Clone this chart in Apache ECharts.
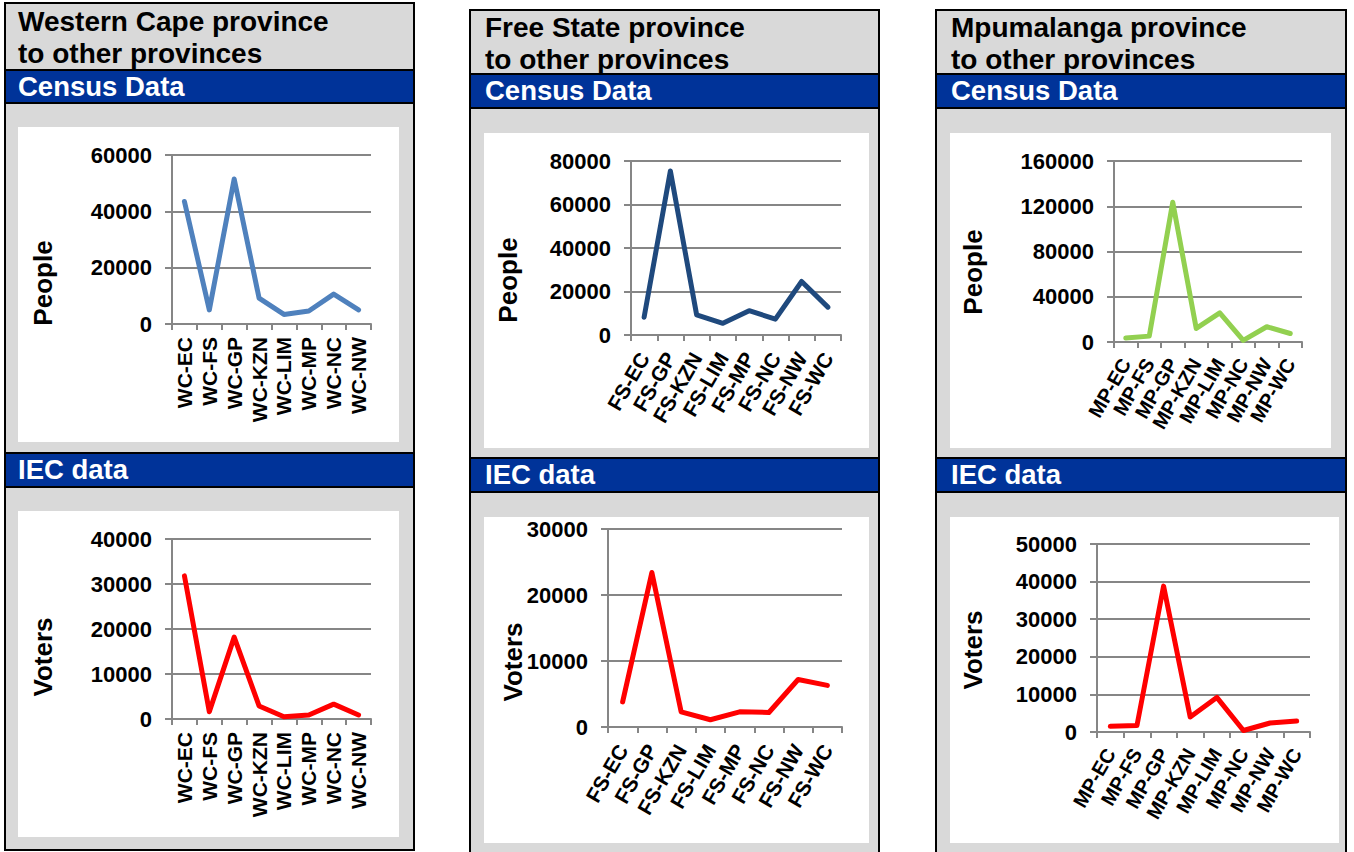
<!DOCTYPE html>
<html>
<head>
<meta charset="utf-8">
<title>Migration between provinces</title>
<script src="https://cdn.jsdelivr.net/npm/echarts@6/dist/echarts.min.js"></script>
<style>
body { margin:0; width:1354px; height:852px; overflow:hidden; background:#fff; position:relative;
       font-family:"Liberation Sans", Arial, sans-serif; }
.panel { position:absolute; box-sizing:border-box; border:2px solid #000; background:#d9d9d9; }
.title { position:absolute; font-weight:bold; font-size:28px; line-height:31.5px; color:#000; white-space:nowrap; }
.band { position:absolute; box-sizing:border-box; border-top:2px solid #000; border-bottom:2px solid #000;
        background:#003399; color:#fff; font-weight:bold; font-size:27.5px; line-height:31px; white-space:nowrap; }
.chart { position:absolute; background:#fff; }
</style>
</head>
<body>
<!-- Western Cape -->
<div class="panel" style="left:4px;top:2px;width:411px;height:849px"></div>
<div class="title" style="left:18px;top:6px">Western Cape province<br>to other provinces</div>
<div class="band" style="left:6px;top:69px;width:407px;height:35px;padding-left:12px">Census Data</div>
<div class="chart" id="wc-census" style="left:18px;top:127px;width:381px;height:315px"></div>
<div class="band" style="left:6px;top:452px;width:407px;height:36px;padding-left:12px">IEC data</div>
<div class="chart" id="wc-iec" style="left:18px;top:511px;width:381px;height:326px"></div>

<!-- Free State -->
<div class="panel" style="left:469px;top:9px;width:411px;height:860px"></div>
<div class="title" style="left:485px;top:12px">Free State province<br>to other provinces</div>
<div class="band" style="left:471px;top:73px;width:407px;height:36px;padding-left:14px">Census Data</div>
<div class="chart" id="fs-census" style="left:484px;top:133px;width:385px;height:315px"></div>
<div class="band" style="left:471px;top:457px;width:407px;height:36px;padding-left:14px">IEC data</div>
<div class="chart" id="fs-iec" style="left:484px;top:517px;width:385px;height:326px"></div>

<!-- Mpumalanga -->
<div class="panel" style="left:935px;top:9px;width:412px;height:860px"></div>
<div class="title" style="left:951px;top:12px">Mpumalanga province<br>to other provinces</div>
<div class="band" style="left:937px;top:73px;width:408px;height:36px;padding-left:14px">Census Data</div>
<div class="chart" id="mp-census" style="left:950px;top:133px;width:381px;height:315px"></div>
<div class="band" style="left:937px;top:457px;width:408px;height:36px;padding-left:14px">IEC data</div>
<div class="chart" id="mp-iec" style="left:950px;top:517px;width:389px;height:326px"></div>

<script>
// Dados
var wcCats = ['WC-EC', 'WC-FS', 'WC-GP', 'WC-KZN', 'WC-LIM', 'WC-MP', 'WC-NC', 'WC-NW'];
var wcCensus = [43500, 5000, 51500, 9200, 3400, 4600, 10600, 5000];
var wcIec = [31800, 1600, 18200, 2900, 500, 900, 3300, 900];

var fsCats = ['FS-EC', 'FS-GP', 'FS-KZN', 'FS-LIM', 'FS-MP', 'FS-NC', 'FS-NW', 'FS-WC'];
var fsCensus = [8200, 75400, 9300, 5400, 11200, 7300, 24600, 12800];
var fsIec = [3800, 23400, 2300, 1100, 2300, 2200, 7200, 6300];

var mpCats = ['MP-EC', 'MP-FS', 'MP-GP', 'MP-KZN', 'MP-LIM', 'MP-NC', 'MP-NW', 'MP-WC'];
var mpCensus = [3500, 5200, 123500, 12000, 25800, 1500, 13500, 7500];
var mpIec = [1500, 1700, 38800, 4000, 9200, 400, 2400, 2900];

var FONT = '"Liberation Sans", Arial, sans-serif';
var GRID = '#868686';

function lineChart(id, cats, values, o) {
    var chart = echarts.init(document.getElementById(id), null, { renderer: 'svg' });
    chart.setOption({
        animation: false,
        grid: { left: o.left, top: o.top, width: o.width, height: o.height },
        xAxis: {
            type: 'category',
            data: cats,
            boundaryGap: true,
            axisLine: { lineStyle: { color: GRID, width: 2 } },
            axisTick: { show: true, length: 6, lineStyle: { color: GRID, width: 2 } },
            axisLabel: {
                interval: 0, rotate: o.rotate, margin: o.xMargin,
                color: '#000', fontWeight: 'bold', fontSize: o.xFont, fontFamily: FONT
            }
        },
        yAxis: {
            type: 'value',
            min: 0, max: o.max, interval: o.step,
            axisLine: { show: true, lineStyle: { color: GRID, width: 2 } },
            axisTick: { show: true, length: 7, lineStyle: { color: GRID, width: 2 } },
            splitLine: { lineStyle: { color: GRID, width: 2 } },
            axisLabel: {
                margin: 20, color: '#000', fontWeight: 'bold', fontSize: 22, fontFamily: FONT,
                formatter: function (v) { return String(v); }
            }
        },
        graphic: [{
            type: 'text',
            x: o.nameX, y: o.nameY,
            rotation: Math.PI / 2,
            style: {
                text: o.name, fill: '#000',
                font: 'bold 26px ' + FONT,
                align: 'center', verticalAlign: 'middle'
            }
        }],
        series: [{
            type: 'line',
            data: values,
            showSymbol: false,
            lineStyle: { color: o.color, width: 5, cap: 'round', join: 'round' },
            itemStyle: { color: o.color }
        }]
    });
    return chart;
}

// Western Cape
lineChart('wc-census', wcCats, wcCensus, {
    left: 154, top: 28, width: 199, height: 169, max: 60000, step: 20000,
    rotate: 90, xMargin: 13, xFont: 21, color: '#4f81bd', name: 'People', nameX: 25, nameY: 156
});
lineChart('wc-iec', wcCats, wcIec, {
    left: 154, top: 28, width: 199, height: 180, max: 40000, step: 10000,
    rotate: 90, xMargin: 13, xFont: 21, color: '#ff0000', name: 'Voters', nameX: 25, nameY: 146
});

// Free State
lineChart('fs-census', fsCats, fsCensus, {
    left: 147, top: 28, width: 210, height: 174, max: 80000, step: 20000,
    rotate: 60, xMargin: 19, xFont: 21, color: '#1f497d', name: 'People', nameX: 24, nameY: 147
});
lineChart('fs-iec', fsCats, fsIec, {
    left: 124, top: 12, width: 234, height: 198, max: 30000, step: 10000,
    rotate: 60, xMargin: 19, xFont: 21, color: '#ff0000', name: 'Voters', nameX: 29, nameY: 145
});

// Mpumalanga
lineChart('mp-census', mpCats, mpCensus, {
    left: 164, top: 28, width: 188, height: 181, max: 160000, step: 40000,
    rotate: 60, xMargin: 18, xFont: 20, color: '#92d050', name: 'People', nameX: 23, nameY: 139
});
lineChart('mp-iec', mpCats, mpIec, {
    left: 147, top: 27, width: 213, height: 188, max: 50000, step: 10000,
    rotate: 60, xMargin: 18, xFont: 20, color: '#ff0000', name: 'Voters', nameX: 23, nameY: 133
});
</script>
</body>
</html>
